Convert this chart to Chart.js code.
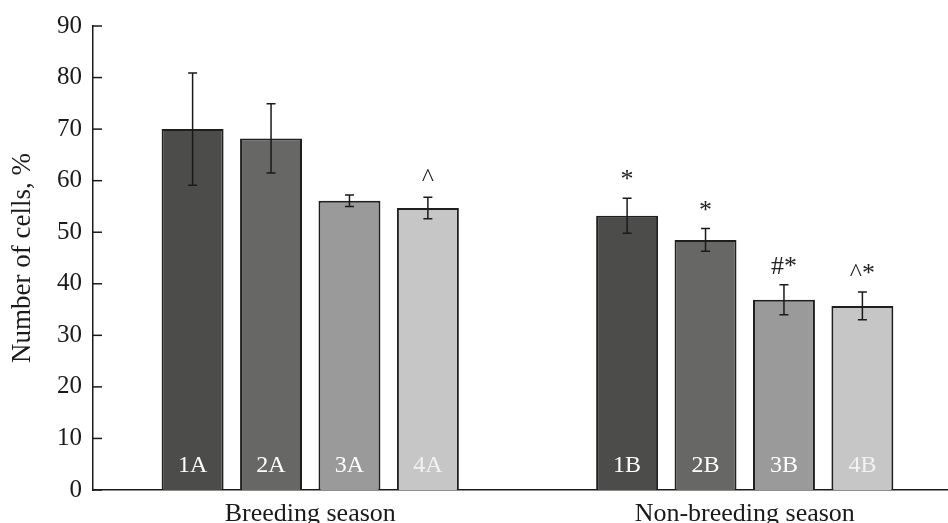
<!DOCTYPE html>
<html>
<head>
<meta charset="utf-8">
<script src="https://cdn.jsdelivr.net/npm/chart.js@4"></script>
<style>
  html, body { margin: 0; padding: 0; background: #fff; overflow: hidden; }
  #wrap { width: 962px; height: 523px; }
</style>
</head>
<body>
<div id="wrap"><canvas id="chart"></canvas></div>
<script>
// values
const seasons = ['Breeding season', 'Non-breeding season'];
const groups = ['1', '2', '3', '4'];
const group1 = [70.0, 53.2];
const group2 = [68.2, 48.5];
const group3 = [56.1, 36.9];
const group4 = [54.7, 35.7];
const err1 = [10.9, 3.4];
const err2 = [6.7, 2.2];
const err3 = [1.1, 2.9];
const err4 = [2.1, 2.7];
const marks1 = ['', '*'];
const marks2 = ['', '*'];
const marks3 = ['', '#*'];
const marks4 = ['^', '^*'];
const yTicks = [0, 10, 20, 30, 40, 50, 60, 70, 80, 90];
const barNames = [['1A', '1B'], ['2A', '2B'], ['3A', '3B'], ['4A', '4B']];

const fills = ['#4c4c4a', '#676766', '#9a9a9a', '#c5c6c5'];
const nameColors = ['#ffffff', '#ffffff', '#ffffff', '#f2f2f2'];
const serif = '"Liberation Serif", "Times New Roman", "DejaVu Serif", serif';

const values = [group1, group2, group3, group4];
const errs = [err1, err2, err3, err4];
const marks = [marks1, marks2, marks3, marks4];

const extras = {
  id: 'extras',
  afterDatasetsDraw(chart) {
    const c = chart.ctx;
    const y = chart.scales.y;
    c.save();
    // inward tick marks on the y axis
    c.strokeStyle = '#1a1a1a';
    c.lineWidth = 1.5;
    yTicks.forEach(v => {
      const py = y.getPixelForValue(v);
      c.beginPath();
      c.moveTo(chart.chartArea.left, py);
      c.lineTo(chart.chartArea.left + 9, py);
      c.stroke();
    });
    chart.data.datasets.forEach((ds, i) => {
      const meta = chart.getDatasetMeta(i);
      meta.data.forEach((bar, j) => {
        const v = ds.data[j];
        const e = errs[i][j];
        const yt = y.getPixelForValue(v + e);
        const yb = y.getPixelForValue(v - e);
        // error bar
        c.strokeStyle = '#1a1a1a';
        c.lineWidth = 1.5;
        c.beginPath();
        c.moveTo(bar.x, yt); c.lineTo(bar.x, yb);
        c.moveTo(bar.x - 4.5, yt); c.lineTo(bar.x + 4.5, yt);
        c.moveTo(bar.x - 4.5, yb); c.lineTo(bar.x + 4.5, yb);
        c.stroke();
        // significance marks
        if (marks[i][j]) {
          c.fillStyle = '#222';
          c.font = '26px ' + serif;
          c.textAlign = 'center';
          c.textBaseline = 'alphabetic';
          c.fillText(marks[i][j], bar.x, yt - 11);
        }
        // name inside the bar
        c.fillStyle = nameColors[i];
        c.font = '24px ' + serif;
        c.textAlign = 'center';
        c.textBaseline = 'middle';
        c.fillText(barNames[i][j], bar.x, y.getPixelForValue(0) - 24);
      });
    });
    c.restore();
  }
};

new Chart(document.getElementById('chart'), {
  type: 'bar',
  data: {
    labels: seasons,
    datasets: groups.map((g, i) => ({
      label: g,
      data: values[i],
      backgroundColor: fills[i],
      borderColor: '#1f1f1f',
      borderWidth: 2,
      categoryPercentage: 0.722,
      barPercentage: 0.79
    }))
  },
  options: {
    responsive: true,
    maintainAspectRatio: false,
    animation: false,
    layout: { padding: { top: 25, right: 0, left: 0, bottom: 0 } },
    plugins: { legend: { display: false }, tooltip: { enabled: false } },
    scales: {
      x: {
        grid: { display: false },
        border: { display: true, color: '#1a1a1a', width: 1.5 },
        ticks: { color: '#1a1a1a', font: { family: serif, size: 26 }, padding: 1 },
        afterFit(s) { s.height = 33; }
      },
      y: {
        min: 0,
        max: 90,
        afterBuildTicks(s) { s.ticks = yTicks.map(v => ({ value: v })); },
        grid: { display: false, drawTicks: false },
        border: { display: true, color: '#1a1a1a', width: 1.5 },
        ticks: { color: '#1a1a1a', font: { family: serif, size: 25 }, padding: 11 },
        title: {
          display: true,
          text: 'Number of cells, %',
          color: '#1a1a1a',
          font: { family: serif, size: 27 },
          padding: { top: 7, bottom: 0 }
        },
        afterFit(s) { s.width = 93; }
      }
    }
  },
  plugins: [extras]
});
</script>
</body>
</html>
